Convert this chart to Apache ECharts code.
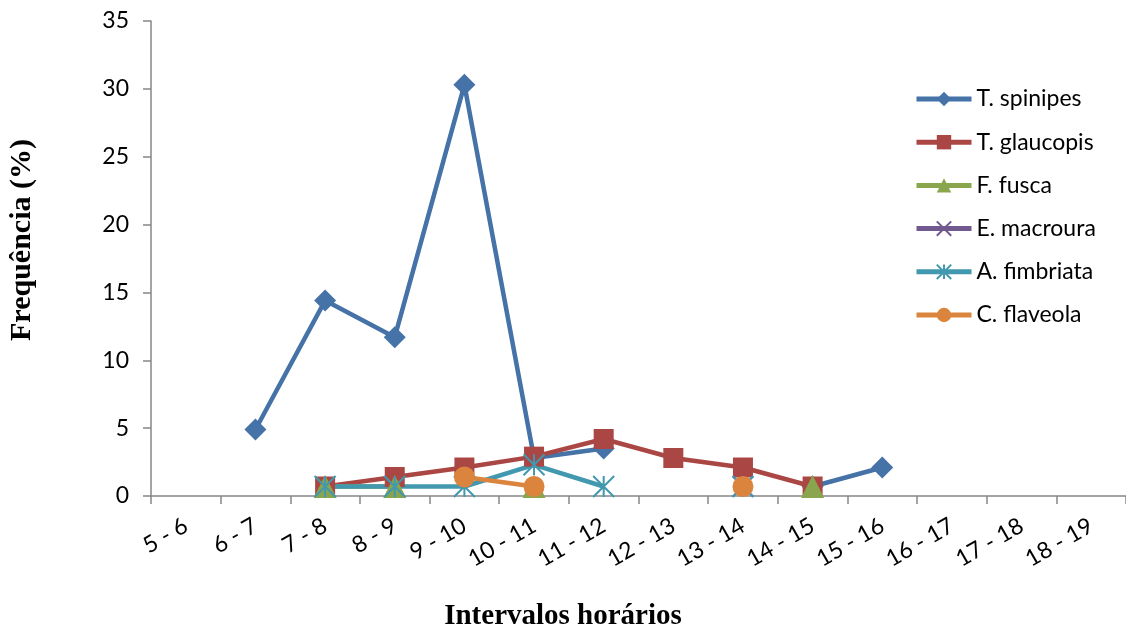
<!DOCTYPE html>
<html>
<head>
<meta charset="utf-8">
<script src="https://cdn.jsdelivr.net/npm/echarts@6/dist/echarts.min.js"></script>
<style>
  html, body { margin: 0; padding: 0; background: #fff; }
  #chart { width: 1126px; height: 630px; }
</style>
</head>
<body>
<div id="chart"></div>
<script>
// Time intervals (hours of the day)
const categories = ['5 - 6', '6 - 7', '7 - 8', '8 - 9', '9 - 10', '10 - 11', '11 - 12',
  '12 - 13', '13 - 14', '14 - 15', '15 - 16', '16 - 17', '17 - 18', '18 - 19'];

// Frequency (%) per species and interval; null = not recorded
const spinipes   = [null, 4.9, 14.4, 11.7, 30.3, 2.8, 3.5, null, null, 0.7, 2.1, null, null, null];
const glaucopis  = [null, null, 0.7, 1.4, 2.1, 2.9, 4.2, 2.8, 2.1, 0.7, null, null, null, null];
const fusca      = [null, null, 0.7, 0.7, null, 0.7, null, null, null, 0.7, null, null, null, null];
const macroura   = [null, null, null, null, null, null, null, null, 0.7, null, null, null, null, null];
const fimbriata  = [null, null, 0.7, 0.7, 0.7, 2.3, 0.7, null, 0.7, null, null, null, null, null];
const flaveola   = [null, null, null, null, 1.4, 0.7, null, null, 0.7, null, null, null, null, null];

const yTicks = { min: 0, max: 35, step: 5 };

const axisGray = '#868686';
const labelFont = 'Lato';

const X_SYMBOL = 'path://M0,0L10,10M10,0L0,10';
const STAR_SYMBOL = 'path://M0,0L10,10M10,0L0,10M5,0L5,10';

function lineSeries(name, data, color, symbol, size, strokeOnly) {
  return {
    name: name,
    type: 'line',
    data: data,
    connectNulls: false,
    symbol: symbol,
    symbolSize: size,
    showAllSymbol: true,
    lineStyle: { color: color, width: 4.5 },
    itemStyle: strokeOnly
      ? { color: 'rgba(0,0,0,0)', borderColor: color, borderWidth: 2 }
      : { color: color, borderColor: color, borderWidth: 0 },
    emphasis: { disabled: true },
    animation: false
  };
}

const chart = echarts.init(document.getElementById('chart'), null, { renderer: 'canvas' });

chart.setOption({
  backgroundColor: '#ffffff',
  animation: false,
  grid: { left: 151, top: 21, width: 979, height: 475, containLabel: false },
  legend: {
    orient: 'vertical',
    left: 914,
    top: 87,
    padding: 0,
    itemWidth: 55,
    itemHeight: 18,
    itemGap: 19.2,
    lineStyle: { width: 5 },
    textStyle: { fontFamily: labelFont, fontSize: 23, color: '#000', lineHeight: 24 },
    data: ['T. spinipes', 'T. glaucopis', 'F. fusca', 'E. macroura', 'A. fimbriata', 'C. flaveola']
  },
  xAxis: {
    type: 'category',
    data: categories,
    boundaryGap: true,
    axisLine: { lineStyle: { color: axisGray, width: 1.5 } },
    axisTick: { show: true, length: 8, lineStyle: { color: axisGray, width: 1.5 } },
    axisLabel: {
      interval: 0,
      rotate: 30,
      margin: 28,
      fontFamily: labelFont,
      fontSize: 23,
      color: '#000'
    },
    splitLine: { show: false }
  },
  yAxis: {
    type: 'value',
    min: yTicks.min,
    max: yTicks.max,
    interval: yTicks.step,
    axisLine: { show: true, lineStyle: { color: axisGray, width: 1.5 } },
    axisTick: { show: true, length: 8, lineStyle: { color: axisGray, width: 1.5 } },
    axisLabel: { margin: 22, fontFamily: labelFont, fontSize: 23, color: '#000' },
    splitLine: { show: false }
  },
  graphic: [
    {
      type: 'text',
      x: 22, y: 240,
      rotation: Math.PI / 2,
      style: {
        text: 'Frequência (%)',
        font: 'bold 30px "Liberation Serif"',
        fill: '#000',
        textAlign: 'center',
        textVerticalAlign: 'middle'
      }
    },
    {
      type: 'text',
      x: 563, y: 617,
      style: {
        text: 'Intervalos horários',
        font: 'bold 29px "Liberation Serif"',
        fill: '#000',
        textAlign: 'center',
        textVerticalAlign: 'middle'
      }
    }
  ],
  series: [
    lineSeries('T. spinipes', spinipes, '#4572A7', 'diamond', 22, false),
    lineSeries('T. glaucopis', glaucopis, '#AA4643', 'rect', 20, false),
    lineSeries('F. fusca', fusca, '#89A54E', 'triangle', 23, false),
    lineSeries('E. macroura', macroura, '#71588F', X_SYMBOL, 20, true),
    lineSeries('A. fimbriata', fimbriata, '#4198AF', STAR_SYMBOL, 21, true),
    lineSeries('C. flaveola', flaveola, '#DB843D', 'circle', 21, false)
  ]
});
</script>
</body>
</html>
